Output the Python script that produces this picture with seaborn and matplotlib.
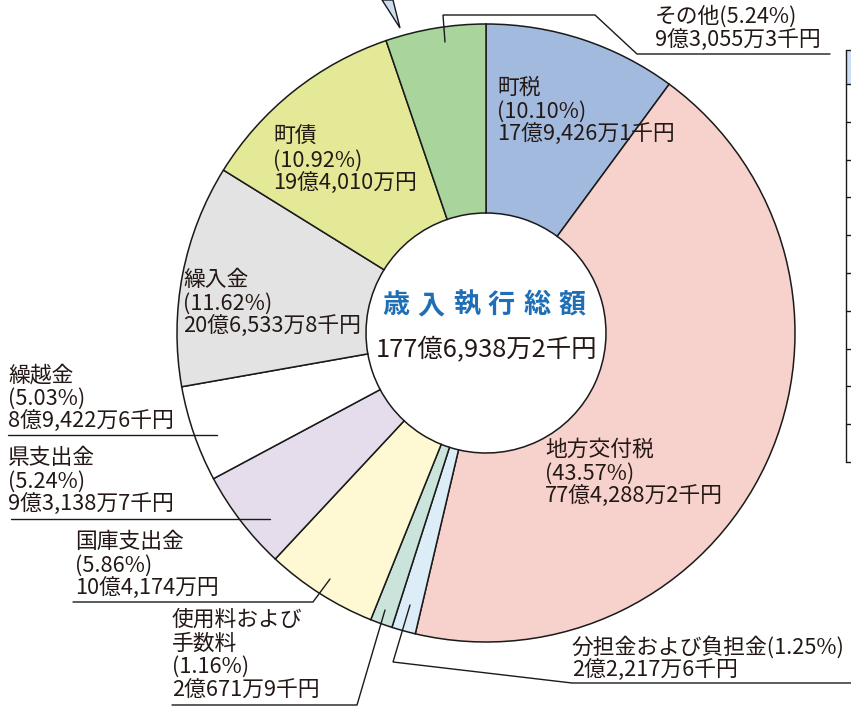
import matplotlib
matplotlib.use('Agg')
import numpy as np
import matplotlib.pyplot as plt
import seaborn as sns

# ---- data ----
items = ['町税', '地方交付税', '分担金および負担金', '使用料および\n手数料', '国庫支出金',
         '県支出金', '繰越金', '繰入金', '町債', 'その他']
shares = [10.10, 43.57, 1.25, 1.16, 5.86, 5.24, 5.03, 11.62, 10.92, 5.24]
amounts = ['17億9,426万1千円', '77億4,288万2千円', '2億2,217万6千円', '2億671万9千円',
           '10億4,174万円', '9億3,138万7千円', '8億9,422万6千円', '20億6,533万8千円',
           '19億4,010万円', '9億3,055万3千円']
title = '歳入執行総額'
total = '177億6,938万2千円'

colors = ['#a3badf', '#f7d1cc', '#dcedf8', '#cae4db', '#fef9d3',
          '#e5ddec', '#ffffff', '#e3e3e3', '#e3e996', '#a9d49b']

sns.set_theme(style='white')
plt.rcParams['font.family'] = ['Noto Sans CJK JP', 'DejaVu Sans']

W, H = 851, 706
fig = plt.figure(figsize=(W / 100, H / 100), dpi=100)
ax = fig.add_axes([0, 0, 1, 1])

def Y(y):
    # pixel row -> data y
    return H - y

cx, cy, R, r_in = 486, 333, 309, 120
ax.pie(shares, colors=colors, startangle=90, counterclock=False,
       center=(cx, Y(cy)), radius=R, frame=True,
       wedgeprops=dict(width=R - r_in, edgecolor='#1a1a1a', linewidth=1.1))

ax.set_xlim(0, W)
ax.set_ylim(0, H)
ax.set_aspect('equal')
ax.axis('off')

txt_color = '#231815'
fs = 15.7
step = 23.5

# where each label block starts (x, centre of first line), and whether % sits on name line
label_pos = {
    '町税': (497, 88, False),
    '地方交付税': (545, 450, False),
    '分担金および負担金': (572, 647, True),
    '使用料および\n手数料': (172, 620, False),
    '国庫支出金': (75, 542, False),
    '県支出金': (8, 458, False),
    '繰越金': (8, 375, False),
    '繰入金': (183, 280, False),
    '町債': (273, 137, False),
    'その他': (655, 17, True),
}

for name, p, amt in zip(items, shares, amounts):
    x, y0, inline = label_pos[name]
    if inline:
        lines = [f'{name}({p:.2f}%)', amt]
    else:
        lines = name.split('\n') + [f'({p:.2f}%)', amt]
    for i, s in enumerate(lines):
        ax.text(x, Y(y0 + i * step), s, ha='left', va='center',
                fontsize=fs, color=txt_color)

# leader lines
leaders = [
    [(445, 42), (443, 15), (595, 15), (637, 54), (830, 54)],      # その他
    [(410, 605), (393, 662), (572, 683), (851, 683)],             # 分担金
    [(385, 610), (357, 705), (172, 705)],                         # 使用料
    [(330, 579), (313, 602), (73, 602)],                          # 国庫支出金
    [(270, 519), (11, 519)],                                      # 県支出金
    [(217, 435), (8, 435)],                                       # 繰越金
]
for pts in leaders:
    xs = [p[0] for p in pts]
    ys = [Y(p[1]) for p in pts]
    ax.plot(xs, ys, color='#1a1a1a', lw=1.0, solid_joinstyle='miter')

# centre text
title_x = np.linspace(396, 572, len(title))
for ch, tx in zip(title, title_x):
    ax.text(tx, Y(305), ch, ha='center', va='center', fontsize=19.5,
            fontweight='bold', color='#1f6fb6')
ax.text(cx, Y(350), total, ha='center', va='center', fontsize=18.3, color=txt_color)

# callout tip at top left (from surrounding page)
ax.fill([382, 400, 393], [Y(0), Y(28), Y(0)], facecolor='#cddcf0',
        edgecolor='#1a1a1a', lw=1.0)

# fragment of a neighbouring table at the right edge
ax.fill([846, 851, 851, 846], [Y(50), Y(50), Y(84), Y(84)], facecolor='#cfdff3',
        edgecolor='none')
ax.plot([846, 846], [Y(50), Y(462)], color='#1a1a1a', lw=1.0)
for ty in np.r_[50, np.linspace(84, 462, 11)]:
    ax.plot([846, 851], [Y(ty), Y(ty)], color='#1a1a1a', lw=1.0)

fig.savefig('out.png', dpi=100)
